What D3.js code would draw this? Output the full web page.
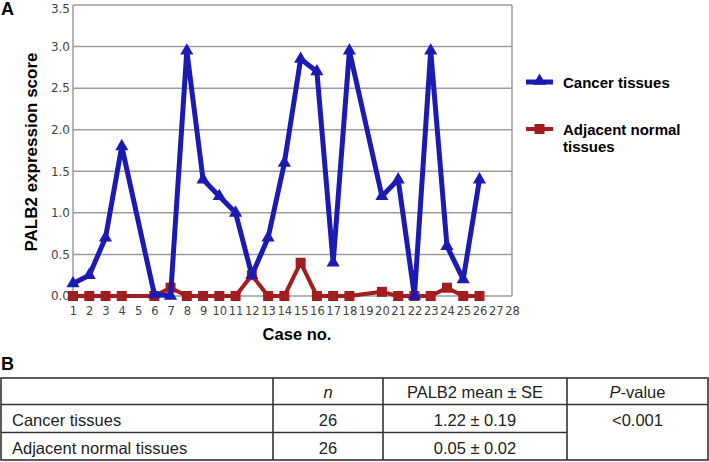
<!DOCTYPE html>
<html>
<head>
<meta charset="utf-8">
<script src="https://cdn.jsdelivr.net/npm/d3@7"></script>
<style>
  body { margin: 0; background: #fff; }
  svg { font-family: Arial, "Liberation Sans", sans-serif; }
</style>
</head>
<body>
<svg id="fig" width="709" height="462"></svg>
<script>
// case numbers on the x axis (1..28), values only for 1..26
const caseTicks = d3.range(1, 29);
const cancerCases = [1, 2, 3, 4, 6, 7, 8, 9, 10, 11, 12, 13, 14, 15, 16, 17, 18, 20, 21, 22, 23, 24, 25, 26];
const cancerValues = [0.15, 0.25, 0.7, 1.8, 0.02, 0.0, 2.95, 1.4, 1.2, 1.0, 0.25, 0.7, 1.6, 2.85, 2.7, 0.4, 2.95, 1.2, 1.4, 0.0, 2.95, 0.6, 0.2, 1.4];
const normalCases = [1, 2, 3, 4, 6, 7, 8, 9, 10, 11, 12, 13, 14, 15, 16, 17, 18, 20, 21, 22, 23, 24, 25, 26];
const normalValues = [0, 0, 0, 0, 0, 0.1, 0, 0, 0, 0, 0.25, 0, 0, 0.4, 0, 0, 0, 0.05, 0, 0, 0, 0.1, 0, 0];
const yTicks = [0, 0.5, 1.0, 1.5, 2.0, 2.5, 3.0, 3.5];

const tableHead = ['', 'n', 'PALB2 mean \u00b1 SE', 'P-value'];
const tableRows = [
  ['Cancer tissues', '26', '1.22 \u00b1 0.19'],
  ['Adjacent normal tissues', '26', '0.05 \u00b1 0.02']
];
const pValue = '<0.001';

const blue = '#1b1bb4';
const red = '#a21d1d';

const svg = d3.select('#fig');

// ---- panel A ----
const plotLeft = 73, plotRight = 512, plotTop = 5, plotBottom = 296;
const x = d3.scaleLinear().domain([1, 28]).range([plotLeft, plotRight]);
const y = d3.scaleLinear().domain([0, 3.5]).range([plotBottom, plotTop]);

svg.append('text').attr('x', 1).attr('y', 15)
  .attr('style', 'font-weight:bold;font-size:18px').text('A');

// grid
svg.append('g').selectAll('line').data(yTicks).join('line')
  .attr('x1', plotLeft).attr('x2', plotRight)
  .attr('y1', d => y(d)).attr('y2', d => y(d))
  .attr('stroke', '#9c9c9c').attr('stroke-width', 1.5);
svg.append('line').attr('x1', plotLeft).attr('x2', plotLeft).attr('y1', plotTop).attr('y2', plotBottom)
  .attr('stroke', '#9c9c9c').attr('stroke-width', 1.5);
svg.append('line').attr('x1', plotRight).attr('x2', plotRight).attr('y1', plotTop).attr('y2', plotBottom)
  .attr('stroke', '#9c9c9c').attr('stroke-width', 1.5);

// axes
const yAxis = svg.append('g').attr('transform', `translate(${plotLeft},0)`)
  .call(d3.axisLeft(y).tickValues(yTicks).tickFormat(d3.format('.1f')).tickSize(0).tickPadding(3));
yAxis.select('.domain').remove();
yAxis.selectAll('text').attr('fill', '#444').attr('font-size', 12)
  .attr('font-family', 'DejaVu Sans, sans-serif');
// top label sits at the very edge, nudge it so it stays on the page
yAxis.selectAll('.tick').filter(d => d === 3.5).select('text').attr('dy', '0.6em');

const xAxis = svg.append('g').attr('transform', `translate(0,${plotBottom})`)
  .call(d3.axisBottom(x).tickValues(caseTicks).tickFormat(d3.format('d')).tickSize(0).tickPadding(11));
xAxis.select('.domain').remove();
xAxis.selectAll('text').attr('fill', '#444').attr('font-size', 11.5)
  .attr('font-family', 'DejaVu Sans, sans-serif');

svg.append('text').attr('x', 297).attr('y', 340).attr('text-anchor', 'middle')
  .attr('style', 'font-weight:bold;font-size:16.5px').text('Case no.');

svg.append('text').attr('transform', 'translate(37,152) rotate(-90)').attr('text-anchor', 'middle')
  .attr('style', 'font-weight:bold;font-size:17px').text('PALB2 expression score');

// series
const line = d3.line().x(d => x(d[0])).y(d => y(d[1]));
const normalData = normalCases.map((c, i) => [c, normalValues[i]]);
const cancerData = cancerCases.map((c, i) => [c, cancerValues[i]]);

svg.append('path').datum(normalData).attr('d', line)
  .attr('fill', 'none').attr('stroke', red).attr('stroke-width', 4).attr('stroke-linejoin', 'round');
svg.append('g').selectAll('rect').data(normalData).join('rect')
  .attr('x', d => x(d[0]) - 5).attr('y', d => y(d[1]) - 5)
  .attr('width', 10).attr('height', 10).attr('fill', red);

svg.append('path').datum(cancerData).attr('d', line)
  .attr('fill', 'none').attr('stroke', blue).attr('stroke-width', 5).attr('stroke-linejoin', 'round');
const tri = d3.symbol().type(d3.symbolTriangle).size(75);
svg.append('g').selectAll('path').data(cancerData).join('path')
  .attr('d', tri).attr('transform', d => `translate(${x(d[0])},${y(d[1])})`).attr('fill', blue);

// legend
svg.append('line').attr('x1', 526).attr('x2', 553).attr('y1', 82).attr('y2', 82)
  .attr('stroke', blue).attr('stroke-width', 5);
svg.append('path').attr('d', tri).attr('transform', 'translate(539.5,81)').attr('fill', blue);
svg.append('text').attr('x', 563).attr('y', 88)
  .attr('style', 'font-weight:bold;font-size:15px').text('Cancer tissues');

svg.append('line').attr('x1', 526).attr('x2', 553).attr('y1', 129).attr('y2', 129)
  .attr('stroke', red).attr('stroke-width', 4);
svg.append('rect').attr('x', 534.5).attr('y', 124).attr('width', 10).attr('height', 10).attr('fill', red);
svg.append('text').attr('x', 563).attr('y', 135)
  .attr('style', 'font-weight:bold;font-size:15px').text('Adjacent normal');
svg.append('text').attr('x', 563).attr('y', 152)
  .attr('style', 'font-weight:bold;font-size:15px').text('tissues');

// ---- panel B ----
svg.append('text').attr('x', 1).attr('y', 370)
  .attr('style', 'font-weight:bold;font-size:18px').text('B');

const colX = [1, 273, 383, 567, 708];
const rowY = [378, 404.5, 432.5, 460];
const tb = svg.append('g').attr('stroke', '#333').attr('stroke-width', 1.6);
tb.append('rect').attr('x', colX[0]).attr('y', rowY[0])
  .attr('width', colX[4] - colX[0]).attr('height', rowY[3] - rowY[0]).attr('fill', 'none');
tb.append('line').attr('x1', colX[0]).attr('x2', colX[4]).attr('y1', rowY[1]).attr('y2', rowY[1]);
tb.append('line').attr('x1', colX[0]).attr('x2', colX[3]).attr('y1', rowY[2]).attr('y2', rowY[2]);
[1, 2, 3].forEach(i => tb.append('line').attr('x1', colX[i]).attr('x2', colX[i]).attr('y1', rowY[0]).attr('y2', rowY[3]));

const cellFont = 'font-family:"Liberation Sans",Arial,sans-serif;font-size:16.5px';
const cx = i => (colX[i] + colX[i + 1]) / 2;
tableHead.forEach((t, i) => {
  if (!t) return;
  const el = svg.append('text').attr('x', cx(i)).attr('y', rowY[0] + 20)
    .attr('text-anchor', 'middle').attr('style', cellFont).attr('fill', '#222');
  if (t === 'n') el.attr('font-style', 'italic').text('n');
  else if (t === 'P-value') {
    el.append('tspan').attr('font-style', 'italic').text('P');
    el.append('tspan').text('-value');
  } else el.text(t);
});
tableRows.forEach((r, j) => {
  r.forEach((t, i) => {
    svg.append('text').attr('x', i === 0 ? 12 : cx(i)).attr('y', rowY[j + 1] + 21.5)
      .attr('text-anchor', i === 0 ? 'start' : 'middle').attr('style', cellFont).attr('fill', '#222').text(t);
  });
});
svg.append('text').attr('x', cx(3)).attr('y', rowY[1] + 21.5).attr('text-anchor', 'middle')
  .attr('style', cellFont).attr('fill', '#222').text(pValue);
</script>
</body>
</html>
